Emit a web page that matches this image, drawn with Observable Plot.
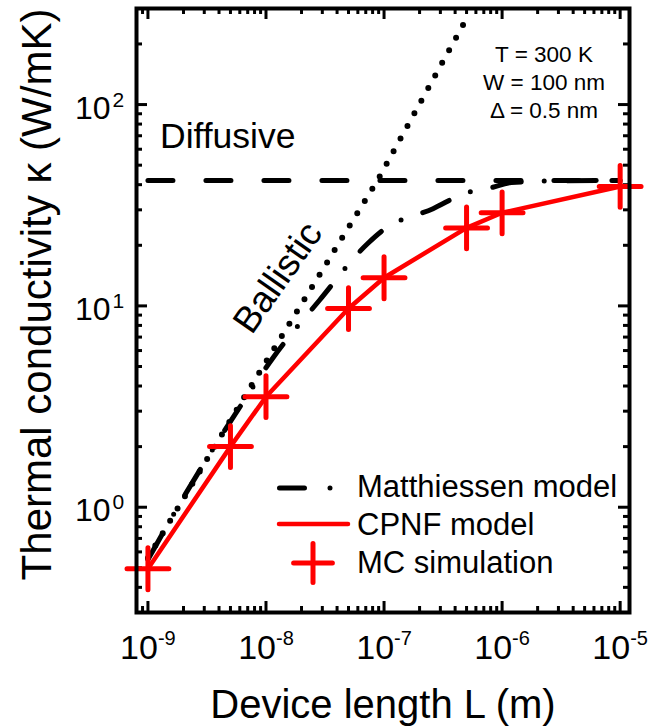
<!DOCTYPE html>
<html><head><meta charset="utf-8">
<script src="https://cdn.jsdelivr.net/npm/d3@7"></script>
<script src="https://cdn.jsdelivr.net/npm/@observablehq/plot@0.6"></script>
<style>html,body{margin:0;padding:0;background:#fff;}</style>
</head><body><div id="chart"></div>
<script>
// ---- data ----
const mcLength   = [1e-9, 5e-9, 1e-8, 5e-8, 1e-7, 5e-7, 1e-6, 1e-5];
const mcKappa    = [0.495, 2.0, 3.54, 9.7, 13.8, 24.4, 29.0, 39.2];
const cpnfLength = [1e-9, 5e-9, 1e-8, 5e-8, 1e-7, 5e-7, 1e-6, 1e-5];
const cpnfKappa  = [0.495, 2.0, 3.54, 9.7, 13.8, 24.4, 29.0, 39.2];
const matthLength = [1e-9, 2e-9, 3.5e-9, 5.7e-9, 1.14e-8, 2.85e-8, 7.2e-8, 1e-7, 2.6e-7, 5e-7, 8e-7, 1.2e-6, 3e-6, 1e-5];
const matthKappa  = [0.55, 1.12, 1.92, 3.0, 5.5, 10.7, 20.3, 24, 30.4, 36.5, 38.6, 41, 41.8, 42];
const ballisticLength = [1e-9, 6.5e-9, 8.8e-8, 4.8e-7];
const ballisticKappa  = [0.56, 3.5, 42, 256];
const diffusiveLength = [1e-9, 1e-5];
const diffusiveKappa  = [42, 42];

const xTickValues = [1e-9, 1e-8, 1e-7, 1e-6, 1e-5];
const xTickExponents = ["-9", "-8", "-7", "-6", "-5"];
const yTickValues = [1, 10, 100];
const yTickExponents = ["0", "1", "2"];
const tickBase = "10";

const legendLabels = ["Matthiessen model", "CPNF model", "MC simulation"];
const conditionLines = ["T = 300 K", "W = 100 nm", "Δ = 0.5 nm"];
const regimeLabels = ["Diffusive", "Ballistic"];
const xTitle = "Device length L (m)";
const yTitle = "Thermal conductivity κ (W/mK)";

// ---- layout ----
const W = 663, H = 728;
const mL = 136, mR = 34, mT = 8, mB = 116;
const innerW = W - mL - mR, innerH = H - mT - mB;
const xDomain = [8e-10, 1.2e-5], yDomain = [0.3, 300];
const font = "'Liberation Sans', Arial, Helvetica, sans-serif";

function minorTicks([lo, hi]) {
  const out = [];
  const e0 = Math.floor(Math.log10(lo)), e1 = Math.ceil(Math.log10(hi));
  for (let e = e0; e <= e1; e++) for (let m = 2; m <= 9; m++) {
    const v = m * Math.pow(10, e);
    if (v > lo * 1.02 && v < hi * 0.98) out.push(v);
  }
  return out;
}
const xMinor = minorTicks(xDomain), yMinor = minorTicks(yDomain);

const tbl = (xs, ys) => xs.map((L, i) => ({L, k: ys[i]}));
const mc = tbl(mcLength, mcKappa);
const cpnf = tbl(cpnfLength, cpnfKappa);
const matth = tbl(matthLength, matthKappa);
const ball = tbl(ballisticLength, ballisticKappa);
const diff = tbl(diffusiveLength, diffusiveKappa);

const majorLen = 11, minorLen = 6, tickW = 3;

function overlay(index, scales, values, dims) {
  const left = dims.marginLeft, top = dims.marginTop;
  const right = dims.width - dims.marginRight, bottom = dims.height - dims.marginBottom;
  const g = d3.create("svg:g").attr("font-family", font).attr("fill", "black").attr("text-anchor", "start");
  // legend
  const sx0 = right - 352, tx = right - 272;
  const rows = [bottom - 115, bottom - 77, bottom - 39];
  g.append("line").attr("x1", sx0 + 2.5).attr("x2", sx0 + 58).attr("y1", rows[0] - 9).attr("y2", rows[0] - 9)
    .attr("stroke", "black").attr("stroke-width", 5).attr("stroke-linecap", "round")
    .attr("stroke-dasharray", "25,25.5,0,60");
  g.append("line").attr("x1", sx0 + 2).attr("x2", sx0 + 71).attr("y1", rows[1] - 11).attr("y2", rows[1] - 11)
    .attr("stroke", "red").attr("stroke-width", 4.5).attr("stroke-linecap", "round");
  g.append("path").attr("d", d3.symbol(d3.symbolPlus, 492)())
    .attr("transform", `translate(${sx0 + 36},${rows[2] - 10})`)
    .attr("fill", "none").attr("stroke", "red").attr("stroke-width", 5).attr("stroke-linecap", "round");
  legendLabels.forEach((t, i) => {
    g.append("text").attr("x", tx).attr("y", rows[i]).attr("font-size", 31).attr("text-anchor", "start").text(t);
  });
  // conditions
  conditionLines.forEach((t, i) => {
    g.append("text").attr("x", right - 85).attr("y", top + 54 + 28 * i)
      .attr("font-size", 22.5).attr("text-anchor", "middle").text(t);
  });
  // regime labels
  g.append("text").attr("x", left + 24).attr("y", top + 140).attr("font-size", 35.5)
    .attr("text-anchor", "start").text(regimeLabels[0]);
  g.append("text").attr("transform", `translate(${left + 141},${top + 269}) rotate(-55)`)
    .attr("font-size", 37).attr("text-anchor", "middle").attr("dy", "0.35em").text(regimeLabels[1]);
  return g.node();
}

const chart = Plot.plot({
  width: W, height: H,
  marginLeft: mL, marginRight: mR, marginTop: mT, marginBottom: mB,
  x: {type: "log", domain: xDomain, axis: null},
  y: {type: "log", domain: yDomain, axis: null},
  style: {fontFamily: font, background: "white", color: "black"},
  marks: [
    // ticks (inward, mirrored on all sides)
    Plot.tickX(xTickValues, {x: d => d, insetTop: innerH - majorLen, stroke: "black", strokeWidth: tickW}),
    Plot.tickX(xTickValues, {x: d => d, insetBottom: innerH - majorLen, stroke: "black", strokeWidth: tickW}),
    Plot.tickX(xMinor, {x: d => d, insetTop: innerH - minorLen, stroke: "black", strokeWidth: tickW}),
    Plot.tickX(xMinor, {x: d => d, insetBottom: innerH - minorLen, stroke: "black", strokeWidth: tickW}),
    Plot.tickY(yTickValues, {y: d => d, insetRight: innerW - majorLen, stroke: "black", strokeWidth: tickW}),
    Plot.tickY(yTickValues, {y: d => d, insetLeft: innerW - majorLen, stroke: "black", strokeWidth: tickW}),
    Plot.tickY(yMinor, {y: d => d, insetRight: innerW - minorLen, stroke: "black", strokeWidth: tickW}),
    Plot.tickY(yMinor, {y: d => d, insetLeft: innerW - minorLen, stroke: "black", strokeWidth: tickW}),
    // tick labels
    Plot.text(xTickValues, {x: d => d, text: () => tickBase, frameAnchor: "bottom", dy: 46, dx: 10,
      textAnchor: "end", lineAnchor: "bottom", fontSize: 34}),
    Plot.text(xTickValues, {x: d => d, text: (d, i) => xTickExponents[i], frameAnchor: "bottom", dy: 32, dx: 10,
      textAnchor: "start", lineAnchor: "bottom", fontSize: 20}),
    Plot.text(yTickValues, {y: d => d, text: () => tickBase, frameAnchor: "left", dx: -26, dy: 14,
      textAnchor: "end", lineAnchor: "bottom", fontSize: 32}),
    Plot.text(yTickValues, {y: d => d, text: (d, i) => yTickExponents[i], frameAnchor: "left", dx: -24, dy: 2,
      textAnchor: "start", lineAnchor: "bottom", fontSize: 21}),
    // axis titles
    Plot.text([xTitle], {text: d => d, frameAnchor: "bottom", dy: 105, lineAnchor: "bottom", fontSize: 40}),
    Plot.text([yTitle], {text: d => d, frameAnchor: "left", dx: -86, dy: -16, rotate: -90,
      lineAnchor: "bottom", textAnchor: "middle", fontSize: 42}),
    // curves
    Plot.line(diff, {x: "L", y: "k", stroke: "black", strokeWidth: 5, strokeDasharray: "25,33", strokeLinecap: "round", clip: true}),
    Plot.line(ball, {x: "L", y: "k", stroke: "black", strokeWidth: 6, strokeDasharray: "0,14.4", strokeLinecap: "round", clip: true}),
    Plot.line(matth, {x: "L", y: "k", stroke: "black", strokeWidth: 5, strokeDasharray: "29,23,0,23", strokeLinecap: "round", curve: "monotone-x", clip: true}),
    Plot.line(cpnf, {x: "L", y: "k", stroke: "red", strokeWidth: 4.5, strokeLinejoin: "round"}),
    Plot.dot(mc, {x: "L", y: "k", symbol: "plus", r: 13.5, stroke: "red", strokeWidth: 5, strokeLinecap: "round"}),
    overlay,
    Plot.frame({stroke: "black", strokeWidth: 4})
  ]
});
document.getElementById("chart").appendChild(chart);
</script>
</body></html>
